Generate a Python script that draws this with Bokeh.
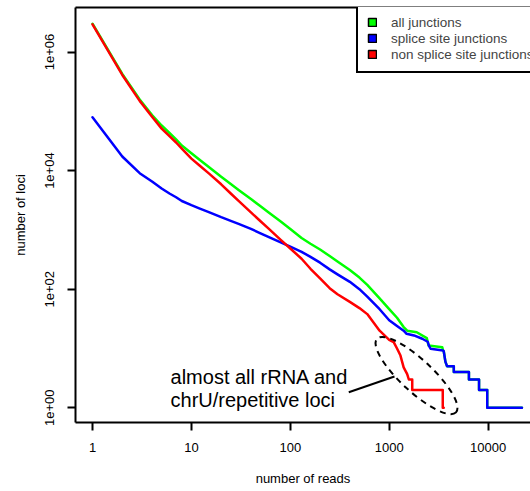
from bokeh.plotting import figure
from bokeh.models import Range1d, LogAxis, FixedTicker, Legend, LegendItem
from bokeh.core.properties import value
from bokeh.embed import file_html
from bokeh.resources import INLINE

FONT = "Liberation Sans"

# ---- data ----
READS_ALL = [1, 2, 3, 4, 5, 6, 7, 8, 10, 12, 15, 20, 25, 30, 40, 50, 60, 80, 100, 130, 160, 200,
             250, 300, 400, 500, 600, 800, 1000, 1200, 1400, 1520, 1900, 2400, 2500, 3440, 3500,
             3560, 3700, 3850, 4500, 4500, 6400, 6400, 8100, 8100, 9800, 9800, 22000]
LOCI_ALL = [3.0e6, 4.27e5, 1.58e5, 8.66e4, 5.76e4, 4.31e4, 3.35e4, 2.65e4, 1.96e4, 1.54e4, 1.15e4, 7860,
            5940, 4730, 3310, 2500, 1990, 1390, 1040, 730, 585, 467, 363, 294, 211, 157, 118, 70, 46,
            33, 23, 20, 18.8, 15, 11.2, 10.5, 9.3, 9, 6, 5, 5, 4, 4, 3, 3, 2, 2, 1, 1]

READS_SPLICE = [1, 2, 3, 4, 5, 6, 7, 8, 10, 12, 15, 20, 25, 30, 40, 50, 60, 80, 100, 130, 160, 200,
                250, 300, 400, 500, 600, 800, 1000, 1200, 1400, 1500, 1780, 2160, 2450, 2520, 2620,
                3500, 3560, 3700, 3850, 4500, 4500, 6400, 6400, 8100, 8100, 9800, 9800, 22000]
LOCI_SPLICE = [7.95e4, 1.73e4, 9040, 6550, 4990, 4110, 3550, 3070, 2610, 2310, 2000, 1640, 1420, 1260,
               1040, 877, 762, 615, 521, 427, 351, 280, 216, 178, 133, 100, 75, 46, 30, 24, 20, 17.7,
               16.6, 14.6, 13, 11.2, 9.9, 9.25, 9, 6, 5, 5, 4, 4, 3, 3, 2, 2, 1, 1]

READS_NONSPLICE = [1, 2, 3, 4, 5, 6, 7, 8, 10, 12, 15, 20, 25, 30, 40, 50, 60, 80, 100, 130, 160, 200,
                   250, 300, 400, 500, 600, 800, 1000, 1110, 1200, 1300, 1350, 1400, 1520, 1580, 1710,
                   1710, 3480, 3480, 3560]
LOCI_NONSPLICE = [2.92e6, 4.1e5, 1.5e5, 8.1e4, 5.1e4, 3.8e4, 2.98e4, 2.35e4, 1.59e4, 1.23e4, 8970, 5880,
                  4110, 3090, 1970, 1400, 1060, 681, 486, 326, 221, 152, 104, 82, 61, 48, 38, 20, 14,
                  12.8, 10, 7.6, 6, 4.8, 3.7, 3, 3, 2, 2, 1, 1]

SERIES_NAMES = ["all junctions", "splice site junctions", "non splice site junctions"]
SERIES_COLORS = ["#00FF00", "#0000FF", "#FF0000"]
SERIES_X = [READS_ALL, READS_SPLICE, READS_NONSPLICE]
SERIES_Y = [LOCI_ALL, LOCI_SPLICE, LOCI_NONSPLICE]

X_TICKS = [1, 10, 100, 1000, 10000]
X_TICK_LABELS = ["1", "10", "100", "1000", "10000"]
Y_TICKS = [1, 100, 10000, 1000000]
Y_TICK_LABELS = ["1e+00", "1e+02", "1e+04", "1e+06"]

ANNOT_LINES = ["almost all rRNA and", "chrU/repetitive loci"]
ANNOT_X = [6.15, 6.15]
ANNOT_Y = [3.37, 1.33]
ELLIPSE_X = [1888]
ELLIPSE_Y = [3.5]
POINTER_X = [390, 1131]
POINTER_Y = [1.83, 3.37]

# ---- figure ----
p = figure(x_axis_type="log", y_axis_type="log",
           x_range=Range1d(0.673, 26840), y_range=Range1d(0.565, 5.63e6),
           frame_width=455, frame_height=415,
           min_border_left=75, min_border_right=0, min_border_top=7, min_border_bottom=69,
           output_backend="svg", toolbar_location=None)
p.outline_line_color = None
p.grid.visible = False
p.background_fill_color = "white"
p.border_fill_color = "white"

for ax in (p.xaxis[0], p.yaxis[0]):
    ax.axis_line_width = 2
    ax.axis_line_color = "black"
    ax.major_tick_line_width = 2
    ax.major_tick_out = 8
    ax.major_tick_in = 0
    ax.minor_tick_line_color = None
    ax.major_label_text_font = FONT
    ax.major_label_text_font_size = "13px"
    ax.major_label_text_color = "black"
    ax.axis_label_text_font = FONT
    ax.axis_label_text_font_size = "13px"
    ax.axis_label_text_font_style = "normal"
    ax.axis_label_text_color = "black"

p.xaxis.ticker = FixedTicker(ticks=X_TICKS)
p.xaxis.major_label_overrides = {t: l for t, l in zip(X_TICKS, X_TICK_LABELS)}
p.yaxis.ticker = FixedTicker(ticks=Y_TICKS)
p.yaxis.major_label_overrides = {t: l for t, l in zip(Y_TICKS, Y_TICK_LABELS)}
p.yaxis.major_label_orientation = "vertical"
p.xaxis.axis_label = "number of reads"
p.yaxis.axis_label = "number of loci"
p.xaxis.major_label_standoff = 12
p.xaxis.axis_label_standoff = 16
p.yaxis.major_label_standoff = 13
p.yaxis.axis_label_standoff = 15

top_axis = LogAxis(ticker=FixedTicker(ticks=[]), axis_line_width=2, axis_line_color="black",
                   major_tick_out=0, major_tick_in=0, minor_tick_line_color=None,
                   major_label_text_font_size="0px", major_label_standoff=0)
p.add_layout(top_axis, "above")

# ---- curves ----
for xs, ys, col in zip(SERIES_X, SERIES_Y, SERIES_COLORS):
    p.line(xs, ys, line_color=col, line_width=2.5, line_join="round", line_cap="round")

# ---- annotation ----
p.text(x=ANNOT_X, y=ANNOT_Y, text=ANNOT_LINES, text_font=value(FONT), text_font_size="20px",
       text_baseline="alphabetic", text_align="left", text_color="black")
p.ellipse(x=ELLIPSE_X, y=ELLIPSE_Y, width=108, height=32, width_units="screen", height_units="screen",
          angle=-0.75, fill_color=None, line_color="black", line_width=2, line_dash="6 5")
p.line(POINTER_X, POINTER_Y, line_color="black", line_width=2)

# ---- legend (square swatches: zero-size quads at each series' first point) ----
items = []
for name, col, xs, ys in zip(SERIES_NAMES, SERIES_COLORS, SERIES_X, SERIES_Y):
    r = p.quad(left=xs[:1], right=xs[:1], top=ys[:1], bottom=ys[:1], fill_color=col,
               line_color="black", line_width=1.5)
    items.append(LegendItem(label=name, renderers=[r]))
legend = Legend(items=items, location=(281, 349), border_line_color="black", border_line_width=2,
                border_line_alpha=1.0, padding=9, spacing=0, label_height=16, glyph_height=10,
                glyph_width=10, label_standoff=14, label_text_font=FONT, label_text_font_size="13.5px",
                margin=0, background_fill_color="white", background_fill_alpha=1.0)
p.add_layout(legend)

open("out.html", "w").write(file_html(p, INLINE))
